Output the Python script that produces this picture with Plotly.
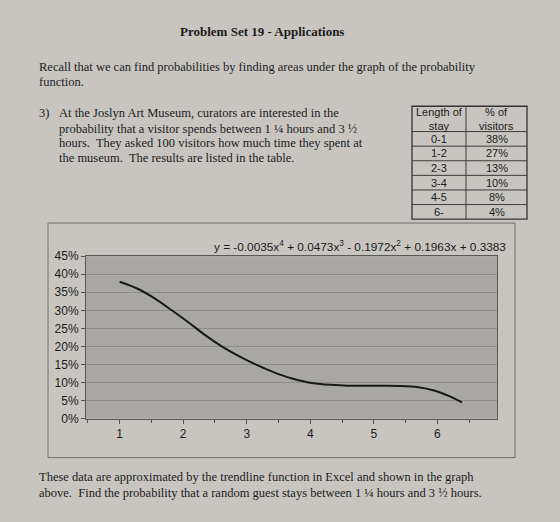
import plotly.graph_objects as go

# ---- data ----
table_header = ["Length of<br>stay", "% of<br>visitors"]
stay_labels = ["0-1", "1-2", "2-3", "3-4", "4-5", "6-"]
pct_visitors = ["38%", "27%", "13%", "10%", "8%", "4%"]

curve_x = [1.0, 1.29, 1.55, 1.82, 2.08, 2.34, 2.60, 2.87, 3.13, 3.42, 3.70,
           4.05, 4.52, 5.02, 5.40, 5.70, 5.95, 6.18, 6.39]
curve_y = [0.379, 0.359, 0.333, 0.300, 0.267, 0.232, 0.201, 0.174, 0.151, 0.129, 0.112,
           0.098, 0.092, 0.091, 0.0905, 0.087, 0.078, 0.063, 0.045]

x_ticks = [1, 2, 3, 4, 5, 6]
equation = "y = -0.0035x<sup>4</sup> + 0.0473x<sup>3</sup> - 0.1972x<sup>2</sup> + 0.1963x + 0.3383"

W, H = 560, 522
PAPER = "#c8c5c0"
PLOT_BG = "#a9a7a3"
TXT = "#1c1c1c"
SERIF = "Liberation Serif"
SANS = "Liberation Sans"


def px(x):
    return x / W


def py(y):
    return 1 - y / H


fig = go.Figure()

fig.add_trace(go.Scatter(
    x=curve_x, y=curve_y, mode="lines",
    line=dict(color="#181818", width=2, shape="spline", smoothing=1.1),
    showlegend=False, hoverinfo="skip",
))

shapes = []
ann = []

# chart outer frame
shapes.append(dict(type="rect", xref="paper", yref="paper",
                   x0=px(48), x1=px(515), y0=py(463), y1=py(222),
                   line=dict(color="#6f6d6a", width=1), layer="below"))

# table grid
tbl_left, tbl_mid, tbl_right = 412, 466, 527
tbl_top, hdr_bottom, row_h = 102, 128, 15
n_rows = len(stay_labels)
tbl_bottom = hdr_bottom + row_h * n_rows
LINE = dict(color="#3c3c3c", width=1)
shapes.append(dict(type="rect", xref="paper", yref="paper",
                   x0=px(tbl_left), x1=px(tbl_right), y0=py(tbl_bottom), y1=py(tbl_top),
                   line=dict(color="#333333", width=1.3)))
shapes.append(dict(type="line", xref="paper", yref="paper",
                   x0=px(tbl_mid), x1=px(tbl_mid), y0=py(tbl_bottom), y1=py(tbl_top), line=LINE))
for i in range(n_rows):
    yy = hdr_bottom + row_h * i
    shapes.append(dict(type="line", xref="paper", yref="paper",
                       x0=px(tbl_left), x1=px(tbl_right), y0=py(yy), y1=py(yy), line=LINE))

col_centers = [(tbl_left + tbl_mid) / 2, (tbl_mid + tbl_right) / 2]


def text(x, y, s, size=12.5, family=SERIF, anchor="left"):
    ann.append(dict(x=px(x), y=py(y), xref="paper", yref="paper", text=s,
                    showarrow=False, xanchor=anchor, yanchor="middle", align="center",
                    font=dict(family=family, size=size, color=TXT)))


for c, h in zip(col_centers, table_header):
    text(c, (tbl_top + hdr_bottom) / 2 + 0.5, h, size=11, family=SANS, anchor="center")
for i, (a, b) in enumerate(zip(stay_labels, pct_visitors)):
    yc = hdr_bottom + row_h * i + row_h / 2
    text(col_centers[0], yc, a, size=11, family=SANS, anchor="center")
    text(col_centers[1], yc, b, size=11, family=SANS, anchor="center")

text(262, 25, "<b>Problem Set 19 - Applications</b>", size=13, anchor="center")
text(37, 62, "Recall that we can find probabilities by finding areas under the graph of the probability")
text(37, 77, "function.")
text(37, 109, "3)")
text(57, 109, "At the Joslyn Art Museum, curators are interested in the")
text(57, 125, "probability that a visitor spends between 1 ¼ hours and 3 ½")
text(57, 140, "hours.  They asked 100 visitors how much time they spent at")
text(57, 155, "the museum.  The results are listed in the table.")
text(37, 483, "These data are approximated by the trendline function in Excel and shown in the graph")
text(37, 499, "above.  Find the probability that a random guest stays between 1 ¼ hours and 3 ½ hours.")
text(508, 246, equation, size=11.8, family=SANS, anchor="right")

fig.update_layout(
    width=W, height=H,
    margin=dict(l=0, r=0, t=0, b=0),
    paper_bgcolor=PAPER,
    plot_bgcolor=PLOT_BG,
    annotations=ann,
    shapes=shapes,
    showlegend=False,
    xaxis=dict(
        domain=[px(86), px(497)],
        range=[0.47, 6.94],
        tickvals=x_ticks, ticktext=[str(v) for v in x_ticks],
        ticks="outside", ticklen=4, tickcolor="#555",
        minor=dict(ticks="outside", ticklen=3, dtick=0.5, tick0=0.5, tickcolor="#555", showgrid=False),
        showgrid=False, zeroline=False,
        showline=True, linecolor="#5a5856", linewidth=1, mirror=True,
        tickfont=dict(family=SANS, size=12, color=TXT),
    ),
    yaxis=dict(
        domain=[py(423), py(256)],
        range=[0, 0.45], dtick=0.05, tickformat=".0%",
        ticks="outside", ticklen=4, tickcolor="#555",
        showgrid=True, gridcolor="#8e8c88", gridwidth=1,
        zeroline=False,
        showline=True, linecolor="#5a5856", linewidth=1, mirror=True,
        tickfont=dict(family=SANS, size=12, color=TXT),
    ),
)

fig.write_html("out.html")
